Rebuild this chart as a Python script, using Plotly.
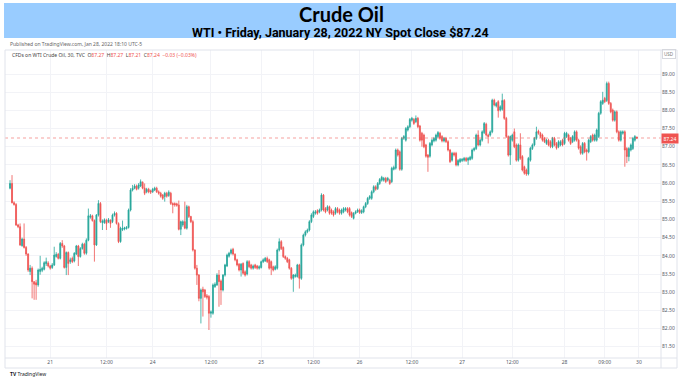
import plotly.graph_objects as go

# ---------------- data ----------------
opens = [
85.86,85.99,85.46,85.41,84.85,84.80,84.28,84.46,84.23,84.05,83.57,83.66,83.29,83.26,83.20,83.57,83.60,83.63,83.78,83.80,
83.72,83.68,83.75,83.98,84.04,83.93,84.34,84.27,83.68,84.09,83.84,83.93,83.86,84.05,84.27,83.98,84.20,84.32,84.07,84.43,
85.06,85.10,84.97,84.30,85.12,85.44,84.91,84.91,84.98,84.94,84.98,84.94,85.12,85.17,84.89,84.39,84.72,84.74,84.75,84.78,
85.26,85.81,85.86,85.92,85.86,85.92,86.02,85.86,85.76,85.83,85.79,85.76,85.81,85.86,85.76,85.72,85.67,85.63,85.72,85.66,
85.72,85.44,85.44,85.43,85.40,84.73,84.85,84.94,84.76,85.35,85.08,84.94,84.16,83.66,83.47,
82.83,83.08,83.06,82.90,82.88,82.42,82.42,83.15,83.20,83.47,83.31,83.06,83.47,83.72,83.99,84.07,84.18,84.04,83.89,83.77,
83.61,83.79,83.56,83.50,83.84,83.75,83.66,83.75,83.72,83.66,83.68,83.84,83.86,83.93,83.89,83.84,83.70,83.63,83.66,84.16,
84.39,84.23,83.98,83.93,83.89,83.66,83.38,83.43,83.43,83.75,83.38,84.30,84.57,84.66,84.71,84.94,85.08,85.17,85.24,85.21,
85.26,85.67,85.30,85.26,85.35,85.26,85.21,85.17,85.30,85.26,85.17,85.21,85.26,85.30,85.30,
85.19,85.03,85.17,85.21,85.26,85.19,85.21,85.35,85.44,85.58,85.58,85.76,85.90,85.85,85.99,86.08,86.08,86.13,86.08,86.08,
86.04,86.38,86.41,86.91,86.86,86.38,87.23,87.18,87.46,87.55,87.73,87.75,87.69,87.78,87.57,87.37,87.32,87.05,86.77,86.74,
87.05,87.16,87.18,87.28,87.37,87.28,87.16,87.23,87.14,86.91,86.63,86.82,86.82,86.50,86.59,86.62,86.63,86.68,86.63,86.65,
86.68,86.91,86.95,87.32,87.05,87.18,87.39,87.62,87.32,87.32,87.41,88.28,88.12,88.24,88.01,88.03,88.27,87.78,87.28,86.77,
87.18,87.41,87.05,86.63,87.05,86.73,86.45,86.36,86.25,86.63,86.95,87.05,87.23,87.43,87.37,87.32,87.23,87.09,87.18,87.14,
87.00,87.23,87.09,87.00,87.05,87.18,87.09,87.28,87.32,87.23,87.14,87.18,87.41,87.18,87.00,86.82,87.09,86.91,86.86,87.14,
87.32,87.18,87.18,87.28,87.92,88.19,88.33,88.27,88.74,88.19,88.01,87.73,87.96,87.41,87.18,87.37,87.41,86.95,86.73,86.91,
86.95,87.18,87.27]
highs = [
86.08,86.22,85.50,85.45,84.88,84.89,84.50,84.89,84.27,84.07,83.75,83.71,83.30,83.34,83.65,84.00,83.70,83.85,83.95,83.85,
83.75,83.80,84.25,84.10,84.08,84.38,84.43,84.30,84.12,84.12,83.95,83.98,84.10,84.30,84.30,84.24,84.36,84.36,84.48,85.30,
85.15,85.13,85.00,85.15,85.53,85.48,85.00,85.03,85.02,85.04,85.00,85.16,85.22,85.20,84.92,84.80,84.97,84.80,84.82,85.30,
85.86,85.95,85.97,85.96,86.00,86.10,86.05,85.99,85.87,85.87,85.82,85.87,85.90,85.90,85.80,85.76,85.70,85.76,85.76,85.80,
85.76,85.47,85.47,85.46,85.52,84.97,84.98,85.49,85.40,85.38,85.10,84.98,84.18,83.75,83.50,
83.10,83.15,83.09,82.95,82.92,82.50,83.24,83.27,83.52,83.61,83.35,83.50,83.78,84.06,84.11,84.20,84.22,84.07,83.92,83.80,
83.80,83.82,83.60,83.88,83.88,83.78,83.76,83.78,83.75,83.74,83.87,83.93,83.97,83.98,83.92,83.87,83.73,83.74,84.20,84.48,
84.43,84.26,84.01,83.97,83.92,83.69,83.50,83.51,83.78,83.78,84.34,84.61,84.70,84.75,84.98,85.17,85.25,85.26,85.28,85.30,
85.72,85.70,85.34,85.39,85.38,85.30,85.25,85.34,85.34,85.30,85.30,85.34,85.34,85.34,85.34,
85.22,85.20,85.25,85.30,85.30,85.28,85.38,85.48,85.62,85.67,85.80,85.94,85.94,86.03,86.14,86.20,86.17,86.17,86.17,86.12,
86.45,86.48,86.95,86.95,86.90,87.27,87.32,87.54,87.59,87.79,87.82,87.79,87.86,87.82,87.60,87.41,87.36,87.08,86.80,87.13,
87.22,87.27,87.36,87.43,87.41,87.32,87.27,87.27,87.18,86.94,86.86,86.86,86.86,86.66,86.69,86.69,86.72,86.72,86.72,86.75,
86.95,86.99,87.36,87.45,87.22,87.45,87.68,87.66,87.36,87.45,88.32,88.32,88.23,88.28,88.14,88.46,88.31,87.82,87.31,87.31,
87.36,87.50,87.09,87.09,87.37,86.77,86.48,86.40,86.72,87.00,87.09,87.27,87.55,87.47,87.41,87.36,87.27,87.22,87.22,87.18,
87.27,87.27,87.13,87.18,87.18,87.22,87.41,87.41,87.36,87.27,87.32,87.45,87.45,87.22,87.04,87.13,87.13,86.95,87.22,87.32,
87.36,87.36,87.50,87.96,88.28,88.51,88.37,88.79,88.79,88.23,88.05,88.00,88.00,87.45,87.45,87.45,87.45,86.99,86.99,87.09,
87.27,87.32,87.27]
lows = [
85.83,85.44,85.38,84.82,84.76,84.27,84.25,84.20,84.00,83.56,83.47,82.83,82.79,82.79,83.15,83.48,83.55,83.60,83.72,83.68,
83.62,83.64,83.72,83.95,83.90,83.90,84.22,83.65,83.47,83.47,83.78,83.80,83.82,84.02,83.72,83.95,84.17,84.03,84.03,84.40,
85.02,84.94,83.84,84.27,85.08,84.90,84.71,84.88,84.71,84.90,84.77,84.90,85.08,84.86,84.35,84.36,84.68,84.70,84.72,84.75,
85.22,85.77,85.83,85.80,85.82,85.89,85.83,85.67,85.72,85.72,85.70,85.73,85.78,85.73,85.68,85.60,85.54,85.49,85.60,85.62,
85.40,85.17,85.35,85.35,84.70,84.57,84.80,84.73,84.72,85.04,84.90,84.12,83.62,83.20,82.75,
82.14,82.33,82.84,82.80,81.96,82.30,82.38,83.12,83.17,82.60,82.65,83.02,83.43,83.69,83.95,84.03,84.01,83.85,83.71,83.57,
83.43,83.48,83.43,83.46,83.66,83.62,83.62,83.64,83.62,83.62,83.65,83.80,83.83,83.80,83.62,83.47,83.57,83.60,83.62,84.12,
84.16,83.94,83.89,83.80,83.62,83.34,83.01,83.40,83.40,83.10,83.34,84.26,84.53,84.62,84.67,84.90,85.04,85.13,85.13,85.17,
85.22,85.22,85.17,85.22,85.13,85.13,85.08,85.13,85.17,85.13,85.13,85.17,85.22,85.17,85.08,
85.04,85.00,85.14,85.18,85.15,85.15,85.17,85.31,85.40,85.54,85.54,85.72,85.79,85.81,85.95,86.04,86.04,86.00,86.04,85.95,
86.00,86.35,86.37,86.73,86.34,86.34,87.19,87.14,87.42,87.51,87.69,87.60,87.65,87.51,87.14,87.00,86.96,86.70,86.31,86.70,
87.01,87.12,87.14,87.24,87.19,87.12,87.12,87.10,86.87,86.55,86.59,86.73,86.46,86.46,86.55,86.58,86.59,86.58,86.50,86.62,
86.64,86.87,86.91,87.01,87.01,87.14,87.35,87.28,87.09,87.28,87.37,88.11,88.08,87.80,87.97,87.99,87.74,87.24,86.73,86.50,
87.14,86.96,86.59,86.59,86.64,86.32,86.23,86.20,86.21,86.59,86.91,87.01,87.19,87.33,87.24,87.14,87.10,87.05,87.01,86.96,
86.96,87.01,86.92,86.96,87.01,87.01,87.05,87.24,87.14,87.05,87.10,87.14,87.14,86.92,86.78,86.78,86.82,86.62,86.82,87.10,
87.14,87.14,87.14,87.24,87.88,88.15,88.20,88.23,88.15,87.92,87.69,87.69,87.37,87.14,87.14,87.33,86.45,86.55,86.60,86.87,
86.91,87.14,87.21]
closes = [
85.99,85.46,85.41,84.85,84.80,84.30,84.46,84.23,84.05,83.61,83.66,83.29,83.22,83.20,83.61,83.63,83.66,83.81,83.84,83.72,
83.66,83.75,84.02,84.04,83.93,84.34,84.27,83.68,84.09,83.79,83.89,83.84,84.07,84.27,83.98,84.20,84.32,84.07,84.43,85.10,
85.10,84.97,84.30,85.12,85.44,84.94,84.96,84.99,84.89,84.99,84.89,85.12,85.17,84.89,84.39,84.76,84.76,84.77,84.78,85.26,
85.81,85.86,85.92,85.83,85.95,86.04,85.86,85.72,85.83,85.76,85.75,85.83,85.86,85.76,85.72,85.64,85.58,85.72,85.64,85.75,
85.44,85.40,85.40,85.39,84.73,84.94,84.94,84.76,85.35,85.08,84.94,84.16,83.66,83.47,82.83,
83.06,83.01,82.88,82.86,82.42,82.46,83.20,83.22,83.47,83.29,83.06,83.47,83.75,84.02,84.07,84.16,84.05,83.89,83.75,83.61,
83.77,83.52,83.47,83.84,83.70,83.66,83.72,83.68,83.66,83.70,83.84,83.89,83.93,83.84,83.66,83.66,83.61,83.70,84.16,84.39,
84.20,83.98,83.93,83.84,83.66,83.38,83.47,83.47,83.75,83.38,84.30,84.57,84.66,84.71,84.94,85.12,85.21,85.21,85.17,85.26,
85.67,85.26,85.21,85.35,85.17,85.17,85.12,85.30,85.21,85.17,85.26,85.30,85.30,85.21,85.12,
85.08,85.17,85.21,85.26,85.19,85.24,85.35,85.44,85.58,85.63,85.76,85.90,85.83,85.99,86.10,86.16,86.13,86.04,86.13,85.99,
86.41,86.43,86.91,86.77,86.38,87.23,87.28,87.50,87.55,87.75,87.78,87.64,87.78,87.55,87.18,87.18,87.00,86.74,86.71,87.09,
87.18,87.23,87.32,87.39,87.23,87.16,87.23,87.14,86.91,86.59,86.82,86.77,86.50,86.62,86.65,86.65,86.68,86.62,86.68,86.71,
86.91,86.95,87.32,87.05,87.18,87.41,87.64,87.32,87.28,87.41,88.28,88.15,88.19,87.99,88.10,88.27,87.78,87.28,86.77,87.28,
87.32,87.00,86.63,87.05,86.68,86.36,86.27,86.25,86.68,86.96,87.05,87.23,87.41,87.37,87.28,87.18,87.14,87.18,87.05,87.00,
87.23,87.05,86.96,87.14,87.14,87.05,87.37,87.37,87.18,87.09,87.28,87.41,87.18,86.96,86.82,87.09,86.86,86.86,87.18,87.28,
87.18,87.32,87.46,87.92,88.24,88.28,88.24,88.74,88.19,87.96,87.73,87.96,87.41,87.18,87.41,87.41,86.91,86.73,86.95,87.05,
87.23,87.28,87.24]

bar_index = list(range(len(closes)))

# time-scale labels (bar index at which TradingView writes them)
tick_positions = [20, 48, 71, 100, 125, 151, 174, 200, 225, 250, 276, 296, 313]
tick_labels = ["21", "12:00", "24", "12:00", "25", "12:00", "26", "12:00", "27", "12:00", "28", "09:00", "30"]

price_ticks = [81.5, 82.0, 82.5, 83.0, 83.5, 84.0, 84.5, 85.0, 85.5, 86.0, 86.5, 87.0, 87.5, 88.0, 88.5, 89.0]
last_close = closes[-1]

title_text = "Crude Oil"
subtitle_text = "WTI • Friday, January 28, 2022 NY Spot Close $87.24"
published_text = "Published on TradingView.com, Jan 28, 2022 18:10 UTC-5"

UP = "#26a69a"
DOWN = "#ef5350"
GRID = "#f2f3f7"
BORDER = "#e0e3eb"
TXT = "#555a66"

fig = go.Figure()
fig.add_trace(go.Candlestick(
    x=bar_index, open=opens, high=highs, low=lows, close=closes,
    increasing=dict(line=dict(color=UP, width=0.8), fillcolor=UP),
    decreasing=dict(line=dict(color=DOWN, width=0.8), fillcolor=DOWN),
    whiskerwidth=0, showlegend=False, hoverinfo="skip",
))

# last price dotted line
fig.add_shape(type="line", xref="paper", x0=0, x1=1, yref="y", y0=last_close, y1=last_close,
              line=dict(color="rgba(239,83,80,0.55)", width=1, dash="dot"))

# chart frame and scale separators
fig.add_shape(type="rect", xref="paper", yref="paper", x0=0, x1=1.0244, y0=-0.0325, y1=1.0,
              line=dict(color=BORDER, width=1), layer="above")
fig.add_shape(type="line", xref="paper", yref="paper", x0=1.0, x1=1.0, y0=-0.0325, y1=1.0,
              line=dict(color=BORDER, width=1), layer="above")
fig.add_shape(type="line", xref="paper", yref="paper", x0=0, x1=1.0244, y0=0, y1=0,
              line=dict(color=BORDER, width=1), layer="above")

# title banner
fig.add_shape(type="rect", xref="paper", yref="paper", x0=-0.0015, x1=1.0229, y0=1.0389, y1=1.1526,
              fillcolor="#99ccff", line=dict(width=0), layer="below")

annotations = [
    dict(text="<b>" + title_text + "</b>", x=0.5122, y=1.1175, xref="paper", yref="paper",
         showarrow=False, font=dict(family="Lato, Open Sans, sans-serif", size=20, color="#000000"),
         xanchor="center", yanchor="middle", borderpad=0),
    dict(text="<b>" + subtitle_text + "</b>", x=0.5107, y=1.0575, xref="paper", yref="paper",
         showarrow=False, font=dict(family="Liberation Sans Narrow, Arial Narrow, Roboto, sans-serif", size=12.5, color="#000000"),
         xanchor="center", yanchor="middle", borderpad=0),
    dict(text=published_text, x=0.0046, y=1.0195, xref="paper", yref="paper", showarrow=False,
         font=dict(family="Noto Sans, sans-serif", size=5, color="#666666"), xanchor="left", yanchor="middle"),
    dict(text=("CFDs on WTI Crude Oil, 30, TVC  O<span style='color:#ef5350'>87.27</span>  "
               "H<span style='color:#ef5350'>87.27</span>  L<span style='color:#ef5350'>87.21</span>  "
               "C<span style='color:#ef5350'>87.24</span>  <span style='color:#ef5350'>−0.03 (−0.03%)</span>"),
         x=0.0076, y=0.9838, xref="paper", yref="paper", showarrow=False,
         font=dict(family="Noto Sans, sans-serif", size=5, color="#444444"), xanchor="left", yanchor="middle"),
    dict(text="USD", x=1.0115, y=0.987, xref="paper", yref="paper", showarrow=False,
         font=dict(family="Noto Sans, sans-serif", size=4.5, color="#777777"), bordercolor="#d6d8de",
         borderwidth=1, borderpad=1, xanchor="center", yanchor="middle"),
    dict(text=f"{last_close:.2f}", x=1.0, y=last_close, xref="paper", yref="y", showarrow=False,
         font=dict(family="Noto Sans, sans-serif", size=5, color="#ffffff"), bgcolor=DOWN,
         borderpad=1.5, xanchor="left", yanchor="middle"),
    dict(text="<b>TV</b> TradingView", x=0.0046, y=-0.052, xref="paper", yref="paper", showarrow=False,
         font=dict(family="Noto Sans, sans-serif", size=5, color="#131722"), xanchor="left", yanchor="middle"),
]

fig.update_layout(
    width=680, height=392,
    margin=dict(l=5, r=19, t=50, b=34, autoexpand=False),
    paper_bgcolor="#ffffff", plot_bgcolor="#ffffff",
    annotations=annotations,
    showlegend=False,
    xaxis=dict(range=[-2.5, 324], tickmode="array", tickvals=tick_positions, ticktext=tick_labels,
               showgrid=True, gridcolor=GRID, gridwidth=1, zeroline=False, showline=False,
               ticks="", ticklen=0, tickfont=dict(family="Noto Sans, sans-serif", size=5, color=TXT),
               rangeslider=dict(visible=False), fixedrange=True, automargin=False),
    yaxis=dict(side="right", range=[81.19, 89.66], tickmode="array", tickvals=price_ticks,
               ticktext=[f"{v:.2f}" for v in price_ticks], showgrid=True, gridcolor=GRID, gridwidth=1,
               zeroline=False, showline=False, ticks="", ticklen=3, automargin=False,
               tickfont=dict(family="Noto Sans, sans-serif", size=5, color=TXT)),
)

fig.write_html("out.html", config={"displayModeBar": False, "staticPlot": True},
               post_script="document.body.style.margin='0px';document.body.style.overflow='hidden';")
